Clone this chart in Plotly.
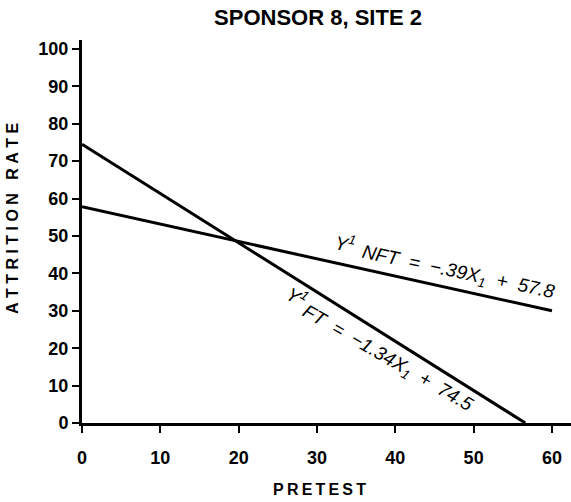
import plotly.graph_objects as go

# Data
title_text = "SPONSOR 8, SITE 2"
x_title = "PRETEST"
y_title_words = ["ATTRITION", "RATE"]
x_ticks = [0, 10, 20, 30, 40, 50, 60]
y_ticks = [0, 10, 20, 30, 40, 50, 60, 70, 80, 90, 100]

nft_x = [0, 60]
nft_y = [57.8, 30.0]

ft_x = [0, 56.6]
ft_y = [74.5, 0.0]

FONT = "Liberation Sans"

fig = go.Figure()
fig.add_trace(go.Scatter(x=nft_x, y=nft_y, mode="lines",
                         line=dict(color="black", width=3), showlegend=False))
fig.add_trace(go.Scatter(x=ft_x, y=ft_y, mode="lines",
                         line=dict(color="black", width=3), showlegend=False))

ann_font = dict(family=FONT, size=19, color="black")
annotations = [
    dict(x=33.6, y=48.0, text="<i>Y<sup>1</sup></i>", textangle=12),
    dict(x=48.0, y=40.0, text="<i>NFT  =  −.39X<sub>1</sub>  +  57.8</i>", textangle=12),
    dict(x=27.4, y=33.9, text="<i>Y<sup>1</sup></i>", textangle=31),
    dict(x=39.0, y=17.2, text="<i>FT  =  −1.34X<sub>1</sub>  +  74.5</i>", textangle=30),
]
for a in annotations:
    fig.add_annotation(xref="x", yref="y", showarrow=False, font=ann_font, **a)

ytitle = ("\u00a0" * 3).join("\u00a0".join(w) for w in y_title_words)
xtitle = "\u2009".join(x_title)

# axis titles placed as paper annotations for exact position
fig.add_annotation(xref="paper", yref="paper", x=(12 - 82) / 489, y=(423 - 219) / 383,
                   text=ytitle, textangle=-90, showarrow=False,
                   xanchor="center", yanchor="middle",
                   font=dict(family=FONT, size=16, color="black", weight="bold"))
fig.add_annotation(xref="paper", yref="paper", x=(319 - 82) / 489, y=(423 - 489) / 383,
                   text=xtitle, showarrow=False, xanchor="center", yanchor="middle",
                   font=dict(family=FONT, size=16, color="black", weight="bold"))

fig.update_layout(
    width=571, height=502,
    margin=dict(l=82, r=0, t=40, b=79),
    paper_bgcolor="white", plot_bgcolor="white",
    title=dict(text=title_text, x=318 / 571, xanchor="center", y=1 - 17 / 502,
               yanchor="middle",
               font=dict(family=FONT, size=22, color="black", weight="bold")),
    xaxis=dict(range=[0, 62.43], tickvals=x_ticks, ticks="outside", ticklen=7,
               tickwidth=2, tickcolor="black", showline=True, linecolor="black",
               linewidth=3, showgrid=False, zeroline=False, ticklabelstandoff=9,
               tickfont=dict(family=FONT, size=18, color="black", weight="bold")),
    yaxis=dict(range=[0, 102.4], tickvals=y_ticks, ticks="outside", ticklen=7,
               tickwidth=2, tickcolor="black", showline=True, linecolor="black",
               linewidth=3, showgrid=False, zeroline=False,
               tickfont=dict(family=FONT, size=18, color="black", weight="bold")),
)

fig.write_html("out.html")
